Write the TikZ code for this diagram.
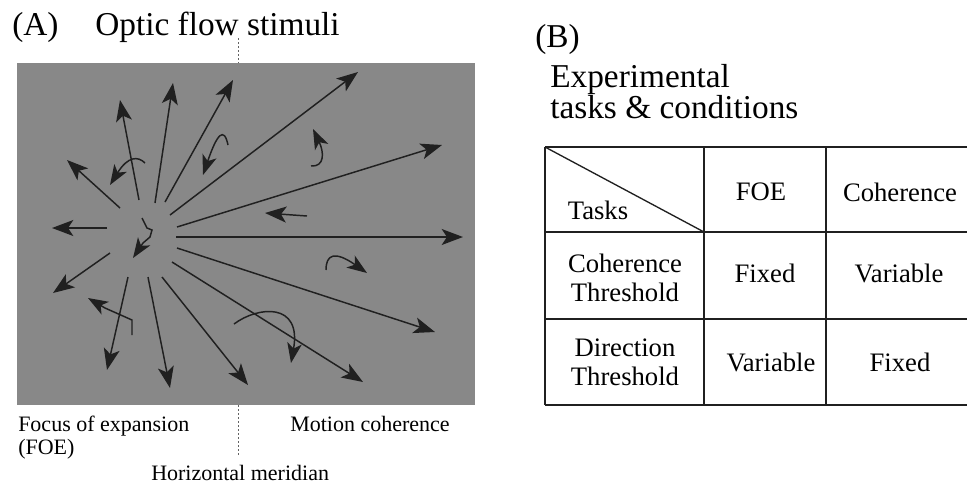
\documentclass[tikz,border=0pt]{standalone}
\usepackage{fontspec}
\setmainfont{Liberation Serif}
\usetikzlibrary{arrows.meta}
\definecolor{stimgray}{HTML}{888888}
\definecolor{ink}{HTML}{202020}
\tikzstyle{flowarrow} = [draw=ink, line width=1.1pt, -{Stealth[length=16pt,width=12pt,inset=4pt]}]
\tikzstyle{curlarrow} = [draw=ink, line width=1.1pt, -{Stealth[length=15pt,width=11pt,inset=4pt]}]
\tikzstyle{meridian} = [draw=ink!70, line width=0.5pt, dash pattern=on 1.5pt off 1.5pt]
\tikzstyle{gridline} = [draw=ink, line width=1pt]
\tikzstyle{bigtext} = [font=\fontsize{25}{28}\selectfont, inner sep=0pt, anchor=base west]
\tikzstyle{smalltext} = [font=\fontsize{16.5}{18}\selectfont, inner sep=0pt, anchor=base west]
\tikzstyle{celltext} = [font=\fontsize{20}{22}\selectfont, align=center, inner sep=0pt]

\begin{document}
\begin{tikzpicture}[x=0.75pt,y=-0.75pt]
\useasboundingbox (0,0) rectangle (967,483);
\clip (0,0) rectangle (967,483);

% panel A
\node (tagA) [bigtext] at (12,35) {(A)};
\node (titleA) [bigtext] at (95,35) {Optic flow stimuli};
\fill[stimgray] (17,63) rectangle (475,405);

% radial flow
\foreach \sx/\sy/\ex/\ey in {139/200/120/100, 155/203/173/83, 165/202/233/80,
  170/215/358/72, 177/227/442/145, 176/237/463/237, 177/248/435/332,
  172/262/363/382, 162/277/248/385, 148/277/170/388, 128/277/107/370,
  110/253/53/293, 107/228/52/228, 120/208/67/160, 307/216/265/213}
  \draw[flowarrow] (\sx,\sy) -- (\ex,\ey);

% noise dots
\draw[curlarrow] (145,163) .. controls (138,156) and (128,156) .. (110,185);
\draw[curlarrow] (228,145) .. controls (224,126) and (217,134) .. (203,175);
\draw[curlarrow] (311,166) .. controls (325,167) and (324,152) .. (313,129);
\draw[curlarrow] (142,218) -- (147,228) -- (152,230) -- (150,237) -- (143,243) -- (133,258);
\draw[curlarrow] (132,335) -- (132,320) -- (105,308) -- (88,298);
\draw[curlarrow] (234,324) .. controls (258,306) and (302,302) .. (291,363);
\draw[curlarrow] (326,270) .. controls (326,255) and (334,250) .. (367,273);

% meridian
\coordinate (merTop) at (238,38);
\coordinate (merBot) at (238,455);
\draw[meridian] (merTop) -- (238,63);
\draw[meridian] (238,405) -- (merBot);

\node (foeText) [smalltext] at (18,431) {Focus of expansion};
\node (foeAbbr) [smalltext] at (18,454) {(FOE)};
\node (cohText) [smalltext] at (290,431) {Motion coherence};
\node (merText) [smalltext] at (151,480) {Horizontal meridian};

% panel B
\node (tagB) [bigtext] at (535,47) {(B)};
\node (titleB1) [bigtext] at (550,87) {Experimental};
\node (titleB2) [bigtext] at (550,118) {tasks \& conditions};

\foreach \y in {147,232,319,405}
  \draw[gridline] (545,\y) -- (980,\y);
\foreach \x in {545,704,826,974}
  \draw[gridline] (\x,147) -- (\x,405);
\draw[gridline] (545,147) -- (704,232);

\node (tasks) [celltext] at (598,210) {Tasks};
\node (colFOE) [celltext] at (761,192) {FOE};
\node (colCoh) [celltext] at (900,192) {Coherence};
\node (rowCoh) [celltext] at (625,278) {Coherence\\Threshold};
\node (rowDir) [celltext] at (625,362) {Direction\\Threshold};
\node (cohFOE) [celltext] at (765,273) {Fixed};
\node (cohCoh) [celltext] at (899,273) {Variable};
\node (dirFOE) [celltext] at (771,362) {Variable};
\node (dirCoh) [celltext] at (900,362) {Fixed};
\end{tikzpicture}
\end{document}
